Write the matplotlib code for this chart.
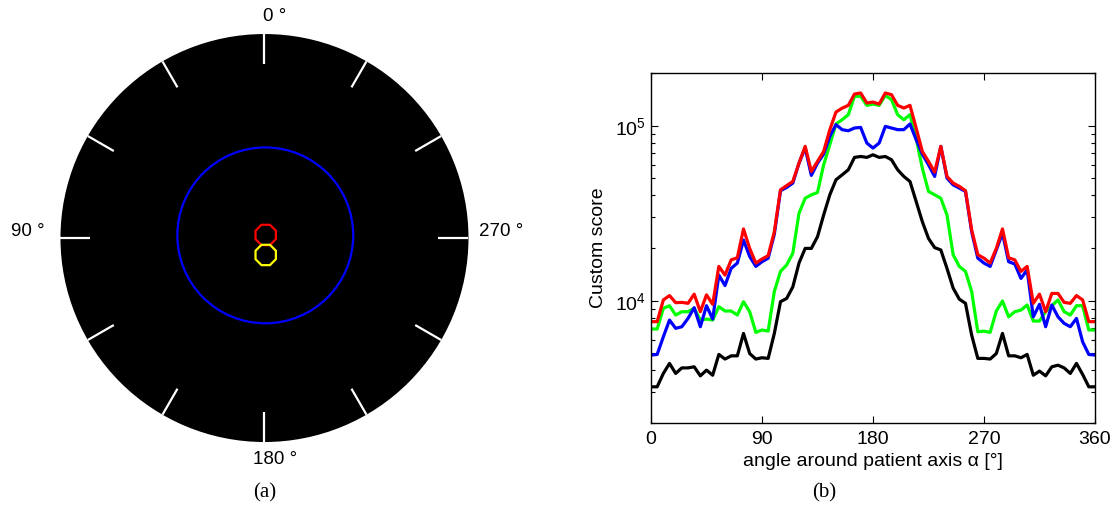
import numpy as np
import matplotlib
matplotlib.use("Agg")
import matplotlib.pyplot as plt
from matplotlib.patches import Circle, RegularPolygon
from matplotlib.ticker import LogLocator, NullFormatter

plt.rcParams["font.family"] = ["Liberation Sans", "DejaVu Sans"]
plt.rcParams["mathtext.fontset"] = "custom"
plt.rcParams["mathtext.rm"] = "Liberation Sans"
plt.rcParams["mathtext.it"] = "Liberation Sans:italic"

# (b) custom score vs angle, one sample every 5 degrees
angles = np.arange(0, 361, 5)

score_black = [
    3220, 3220, 3840, 4380, 3840, 4130, 4130, 4190, 3720, 4010, 3750, 4930,
    4640, 4840, 4840, 6500, 4990, 4640, 4720, 4680, 6500, 9870, 10300, 12000,
    16400, 19900, 19900, 23200, 30900, 40300, 49100, 52400, 56000, 65900, 66700, 65900,
    68200, 65900, 66700, 63900, 56000, 51300, 48000, 36900, 28300, 22700, 20100, 19500,
    15300, 11800, 10200, 9660, 6360, 4680, 4680, 4640, 4990, 6500, 4840, 4840,
    4720, 4930, 3750, 3960, 3720, 4190, 4280, 4130, 3840, 4380, 3790, 3220, 3220,
]
score_green = [
    6890, 6890, 9040, 9360, 8280, 8650, 8650, 9040, 7750, 7850, 7750, 9240,
    8730, 8730, 8280, 9870, 8650, 6590, 6800, 6700, 11300, 14700, 16000, 18700,
    31600, 38500, 40300, 41500, 59800, 77900, 102300, 108200, 115600, 147200, 147200, 130700,
    133000, 130700, 149000, 141000, 115600, 108200, 115600, 85000, 57200, 42100, 40300, 38500,
    30900, 18300, 15700, 14700, 11300, 6640, 6700, 6590, 8730, 9960, 8090, 8650,
    8840, 9450, 7650, 7650, 8650, 9360, 10100, 8650, 8280, 9360, 9360, 6800, 6800,
]
score_blue = [
    4890, 4930, 6220, 7750, 6950, 7100, 7920, 9120, 7100, 9360, 7850, 14000,
    12200, 15300, 16400, 22200, 17900, 15700, 16700, 17500, 24000, 42500, 44400, 47000,
    61100, 74500, 52000, 61100, 68800, 86900, 101400, 94900, 93600, 97000, 97800, 79600,
    74500, 79600, 99100, 97000, 94900, 94900, 102300, 83200, 68800, 59800, 51300, 76200,
    50200, 45900, 44000, 42100, 24800, 17500, 16400, 15700, 19500, 24300, 16700, 16200,
    13400, 15000, 8090, 9530, 7100, 9450, 8090, 7420, 7100, 7920, 5820, 4930, 4890,
]
score_red = [
    7590, 7590, 10100, 10700, 9740, 9780, 9660, 10900, 8650, 10800, 9530, 15700,
    14000, 17100, 17600, 25700, 19900, 16400, 17300, 18100, 24800, 43000, 45500, 48000,
    61100, 76200, 54800, 62500, 71300, 94900, 119700, 126000, 130700, 151700, 153800, 134900,
    136500, 133000, 153800, 150400, 130700, 126200, 130700, 97000, 71300, 62500, 54300, 76200,
    51300, 47000, 45000, 42500, 25400, 18300, 17500, 16400, 19900, 25700, 17600, 17100,
    14700, 15700, 9660, 10900, 8650, 11000, 11000, 9780, 9660, 10700, 10100, 7590, 7590,
]

x_ticks = [0, 90, 180, 270, 360]

# (a) polar view
tick_angles = np.arange(0, 360, 30)
label_angles = [0, 90, 180, 270]
label_texts = ["0 °", "90 °", "180 °", "270 °"]
blue_radius = 0.431
blue_center = (0.004, 0.013)
small_radius = 0.054
red_center = (0.006, 0.015)
yellow_center = (0.006, -0.083)


def draw_polar(ax):
    ax.add_patch(Circle((0, 0), 1.0, facecolor="black", edgecolor="none"))
    for a in np.deg2rad(tick_angles):
        dx, dy = -np.sin(a), np.cos(a)
        ax.plot([0.853 * dx, 1.0 * dx], [0.853 * dy, 1.0 * dy],
                color="white", lw=1.6, solid_capstyle="butt")
    ax.add_patch(Circle(blue_center, blue_radius, fill=False,
                        edgecolor="#0000ff", lw=1.6))
    ax.add_patch(RegularPolygon(red_center, 8, radius=small_radius,
                                orientation=np.pi / 8, fill=False,
                                edgecolor="#ff0000", lw=1.6))
    ax.add_patch(RegularPolygon(yellow_center, 8, radius=small_radius,
                                orientation=np.pi / 8, fill=False,
                                edgecolor="#ffff00", lw=1.6))
    for ang, txt in zip(label_angles, label_texts):
        a = np.deg2rad(ang)
        lx = -np.sin(a) * 1.16 + 0.05 * abs(np.cos(a))
        ly = np.cos(a) * 1.088 + 0.03 * abs(np.sin(a))
        ax.text(lx, ly, txt, ha="center", va="center", fontsize=13.5)
    ax.set_xlim(-1.29, 1.29)
    ax.set_ylim(-1.15, 1.15)
    ax.axis("off")


def draw_scores(ax):
    ax.plot(angles, score_black, color="black", lw=2.3)
    ax.plot(angles, score_green, color="#00ff00", lw=2.3)
    ax.plot(angles, score_blue, color="#0000ff", lw=2.3)
    ax.plot(angles, score_red, color="#ff0000", lw=2.3)
    ax.set_yscale("log")
    ax.set_xlim(0, 360)
    ax.set_ylim(2000, 200000)
    ax.set_xticks(x_ticks)
    ax.yaxis.set_major_locator(LogLocator(base=10))
    ax.yaxis.set_minor_locator(LogLocator(base=10, subs=np.arange(2, 10)))
    ax.yaxis.set_minor_formatter(NullFormatter())
    ax.tick_params(which="both", direction="in", top=True, right=True,
                   labelsize=14, width=0.8)
    ax.tick_params(which="major", length=5)
    ax.tick_params(which="minor", length=3)
    ax.tick_params(axis="x", pad=6)
    ax.set_xlabel("angle around patient axis α [°]", fontsize=14, labelpad=3)
    ax.set_ylabel("Custom score", fontsize=14, labelpad=6)
    for s in ax.spines.values():
        s.set_linewidth(1.0)


def main():
    fig = plt.figure(figsize=(11.18, 5.11), dpi=100)
    ax_a = fig.add_axes([0.00116, 0.0751, 0.4708, 0.9182])
    draw_polar(ax_a)
    ax_b = fig.add_axes([0.5823, 0.1722, 0.3971, 0.6849])
    draw_scores(ax_b)
    fig.text(265 / 1118, 1 - 493 / 511, "(a)", ha="center", va="center",
             family="Liberation Serif", fontsize=15)
    fig.text(824 / 1118, 1 - 493 / 511, "(b)", ha="center", va="center",
             family="Liberation Serif", fontsize=15)
    fig.savefig("out.png", dpi=100)


if __name__ == "__main__":
    main()
